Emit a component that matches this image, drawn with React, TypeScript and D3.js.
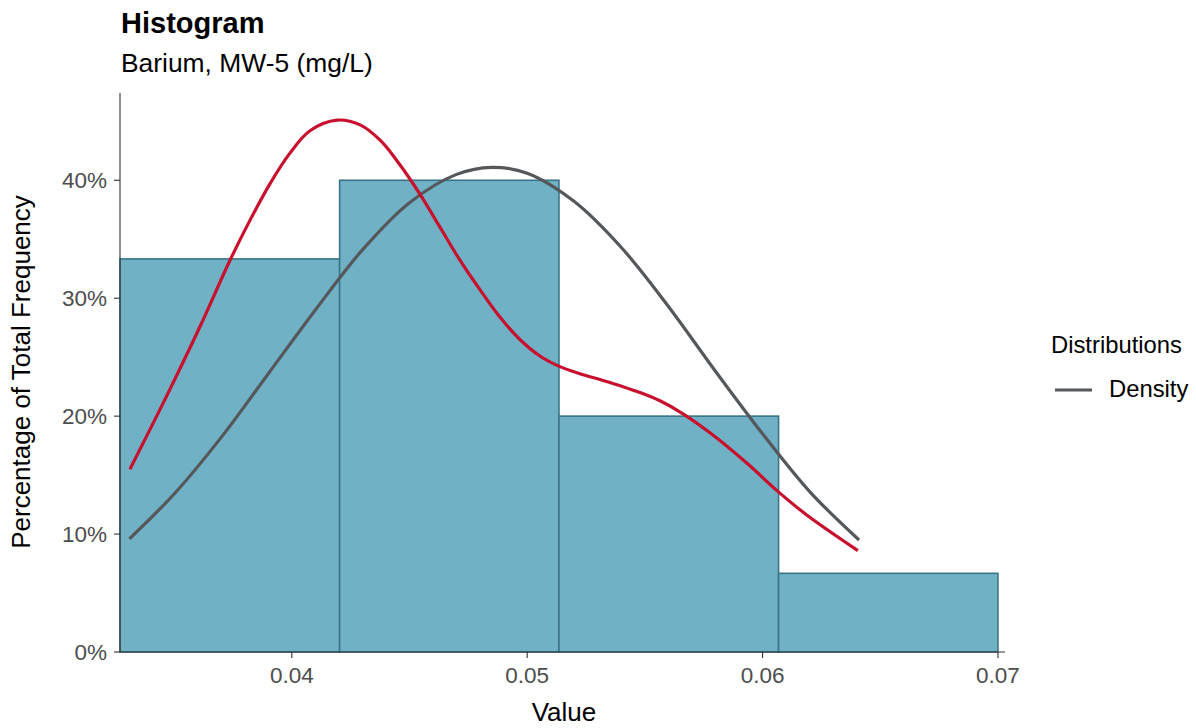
import React from "react";
import * as d3 from "d3";

const binEdges = [0.0327, 0.04203, 0.05135, 0.06068, 0.07];
const binPercent = [33.33, 40.0, 20.0, 6.67];

const normalX = [0.0331, 0.035, 0.037, 0.039, 0.041, 0.043, 0.045, 0.047, 0.0485, 0.05, 0.052, 0.054, 0.056, 0.058, 0.06, 0.062, 0.0641];
const normalY = [9.6, 13.4, 18.2, 23.6, 29.0, 34.1, 38.1, 40.5, 41.1, 40.6, 38.2, 34.3, 29.3, 23.8, 18.5, 13.6, 9.5];

const kdeX = [0.03312, 0.03468, 0.0361, 0.03737, 0.03822, 0.03907, 0.03992, 0.04077, 0.04192, 0.0429, 0.04375, 0.0446, 0.04545, 0.0463, 0.04715, 0.048, 0.04884, 0.04969, 0.05054, 0.05139, 0.05224, 0.05309, 0.05407, 0.05479, 0.05564, 0.05662, 0.05789, 0.05934, 0.06066, 0.06189, 0.06405];
const kdeY = [15.5, 21.7, 27.6, 33.2, 36.6, 39.7, 42.3, 44.2, 45.1, 44.7, 43.4, 41.3, 38.8, 36.0, 33.2, 30.7, 28.4, 26.5, 25.1, 24.2, 23.6, 23.1, 22.5, 22.0, 21.3, 20.2, 18.4, 16.0, 13.6, 11.6, 8.6];

const xTicks = [0.04, 0.05, 0.06, 0.07];
const yTicks = [0, 10, 20, 30, 40];

const FONT = "'Liberation Sans', Arial, sans-serif";

export default function App() {
  const x = d3.scaleLinear().domain([0.0327, 0.0703]).range([120, 1005]);
  const y = d3.scaleLinear().domain([0, 47.4]).range([652, 93]);

  const line = d3
    .line<[number, number]>()
    .x((d) => x(d[0]))
    .y((d) => y(d[1]))
    .curve(d3.curveCatmullRom.alpha(0.5));

  const normalPts = normalX.map((v, i) => [v, normalY[i]] as [number, number]);
  const kdePts = kdeX.map((v, i) => [v, kdeY[i]] as [number, number]);

  return (
    <svg
      width={1196}
      height={728}
      style={{ position: "absolute", left: 0, top: 0, display: "block", background: "#fff" }}
      fontFamily={FONT}
    >
      <text x={121} y={33} fontSize={29} fontWeight="bold" fill="#000">Histogram</text>
      <text x={121} y={72} fontSize={26.4} fill="#000">Barium, MW-5 (mg/L)</text>

      {binPercent.map((p, i) => (
        <rect
          key={i}
          x={x(binEdges[i])}
          y={y(p)}
          width={x(binEdges[i + 1]) - x(binEdges[i])}
          height={y(0) - y(p)}
          fill="#71B1C6"
          stroke="#3A7487"
          strokeWidth={1.6}
        />
      ))}

      <path d={line(normalPts) || ""} fill="none" stroke="#55585B" strokeWidth={3.2} />
      <path d={line(kdePts) || ""} fill="none" stroke="#C8102E" strokeWidth={3.2} />

      {/* axes */}
      <line x1={120} x2={120} y1={93} y2={652} stroke="#333" strokeWidth={1.1} />
      <line x1={120} x2={1005} y1={652} y2={652} stroke="#333" strokeWidth={1.1} />

      {yTicks.map((t) => (
        <g key={t}>
          <line x1={114} x2={120} y1={y(t)} y2={y(t)} stroke="#333" strokeWidth={1.1} />
          <text x={107} y={y(t) + 8} fontSize={22.5} textAnchor="end" fill="#4D4D4D">{t}%</text>
        </g>
      ))}
      {xTicks.map((t) => (
        <g key={t}>
          <line x1={x(t)} x2={x(t)} y1={652} y2={658} stroke="#333" strokeWidth={1.1} />
          <text x={x(t)} y={683} fontSize={22.5} textAnchor="middle" fill="#4D4D4D">{t.toFixed(2)}</text>
        </g>
      ))}

      <text x={564} y={721} fontSize={26} textAnchor="middle" fill="#000">Value</text>
      <text
        transform={`translate(30,372) rotate(-90)`}
        fontSize={26}
        textAnchor="middle"
        fill="#000"
      >
        Percentage of Total Frequency
      </text>

      {/* legend */}
      <text x={1051} y={353} fontSize={23.8} fill="#000">Distributions</text>
      <line x1={1055} x2={1092} y1={390} y2={390} stroke="#55585B" strokeWidth={3.2} />
      <text x={1109} y={397} fontSize={23.8} fill="#000">Density</text>
    </svg>
  );
}
